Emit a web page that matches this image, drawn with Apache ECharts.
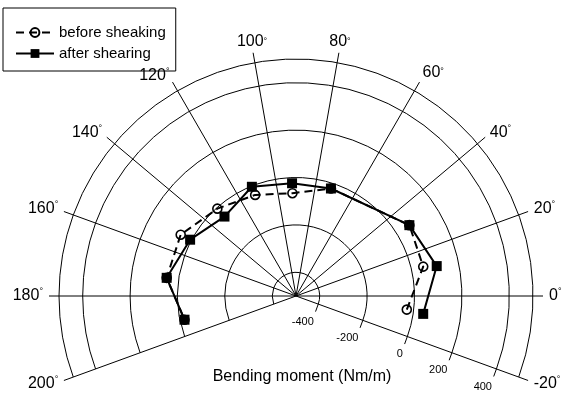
<!DOCTYPE html>
<html>
<head>
<meta charset="utf-8">
<script src="https://cdn.jsdelivr.net/npm/echarts@6/dist/echarts.min.js"></script>
<style>
html,body{margin:0;padding:0;background:#fff;}
#chart{width:562px;height:394px;}
</style>
</head>
<body>
<div id="chart"></div>
<script>
// ---- data ----
const seriesNames = ['before sheaking', 'after shearing'];
const beforeAngle = [-7, 13, 32, 72, 92, 112, 132, 152, 172, 192];
const beforeMoment = [-29, 51, 64, -23, -66, -40, -4, 51, 51, -19];
const afterAngle = [-8, 12, 32, 72, 92, 112, 132, 152, 172, 192];
const afterMoment = [42, 107, 64, -23, -24, -3, -49, 6, 51, -19];
const angleTicks = [-20, 0, 20, 40, 60, 80, 100, 120, 140, 160, 180, 200];
const radiusTicks = [-400, -200, 0, 200, 400];
const axisTitle = 'Bending moment (Nm/m)';

const FONT = "'Liberation Sans', Arial, sans-serif";
const CENTER = [296, 296];

const chart = echarts.init(document.getElementById('chart'), null, {renderer: 'canvas'});

function pairs(r, a) { return r.map((v, i) => [v, a[i]]); }

// label style key per angle (to lift the top labels the way the reference does)
function angleLabel(v) {
  let k = 'v';
  if (v === 80 || v === 100) k = 'up2';
  else if (v === 60) k = 'up1';
  return '{' + k + '|' + v + '}{d|°}';
}

const option = {
  backgroundColor: '#fff',
  animation: false,
  textStyle: {fontFamily: FONT, color: '#000'},
  legend: {
    orient: 'vertical',
    left: 3, top: 8,
    padding: [17, 10, 10, 12],
    itemWidth: 38, itemHeight: 11, itemGap: 6,
    borderColor: '#000', borderWidth: 1,
    textStyle: {fontFamily: FONT, fontSize: 15, color: '#000'},
    data: seriesNames
  },
  polar: [
    {center: CENTER, radius: [0, 237]},
    {center: CENTER, radius: [23.7, 213.3]}
  ],
  angleAxis: [
    {
      polarIndex: 0, type: 'value',
      min: angleTicks[0], max: angleTicks[angleTicks.length - 1], interval: 20,
      startAngle: -20, endAngle: 200, clockwise: false,
      axisLine: {show: true, lineStyle: {color: '#000', width: 1}},
      axisTick: {show: true, inside: false, length: 10, lineStyle: {color: '#000', width: 1}},
      splitLine: {show: true, lineStyle: {color: '#000', width: 1}},
      axisLabel: {
        show: true, margin: 16, fontSize: 16, fontFamily: FONT, color: '#000',
        formatter: angleLabel,
        rich: {
          v: {fontSize: 16, fontFamily: FONT, color: '#000', lineHeight: 2},
          up1: {fontSize: 16, fontFamily: FONT, color: '#000', lineHeight: 2, padding: [0, 0, 6, 0]},
          up2: {fontSize: 16, fontFamily: FONT, color: '#000', lineHeight: 2, padding: [0, 0, 8, 0]},
          d: {fontSize: 9, fontFamily: FONT, color: '#000', lineHeight: 2, padding: [0, 0, 8, 0]}
        }
      }
    },
    {
      polarIndex: 1, type: 'value',
      min: angleTicks[0], max: angleTicks[angleTicks.length - 1], interval: 20,
      startAngle: -20, endAngle: 200, clockwise: false,
      axisLine: {show: false}, axisTick: {show: false}, axisLabel: {show: false}, splitLine: {show: false}
    }
  ],
  radiusAxis: [
    {
      polarIndex: 0, type: 'value', min: -500, max: 500,
      axisLine: {show: false}, axisTick: {show: false}, axisLabel: {show: false}, splitLine: {show: false}
    },
    {
      polarIndex: 1, type: 'value',
      min: radiusTicks[0], max: radiusTicks[radiusTicks.length - 1], interval: 200,
      axisLine: {show: false},
      axisTick: {show: true, length: -8, lineStyle: {color: '#000', width: 1}},
      splitLine: {show: true, lineStyle: {color: '#000', width: 1}},
      axisLabel: {show: true, fontSize: 11, fontFamily: FONT, color: '#000', margin: -13, align: 'right', verticalAlign: 'top'}
    }
  ],
  graphic: [{
    type: 'text', x: 302, y: 377,
    style: {text: axisTitle, font: '16px ' + FONT, fill: '#000', textAlign: 'center', textVerticalAlign: 'middle'}
  }],
  series: [
    {
      name: seriesNames[0], type: 'line', coordinateSystem: 'polar', polarIndex: 0,
      data: pairs(beforeMoment, beforeAngle),
      symbol: 'circle', symbolSize: 9, z: 3,
      itemStyle: {color: 'rgba(0,0,0,0)', borderColor: '#000', borderWidth: 1.6},
      lineStyle: {color: '#000', width: 2, type: [8, 5]}
    },
    {
      name: seriesNames[1], type: 'line', coordinateSystem: 'polar', polarIndex: 0,
      data: pairs(afterMoment, afterAngle),
      symbol: 'rect', symbolSize: 10, z: 4,
      itemStyle: {color: '#000', borderColor: '#000', borderWidth: 0},
      lineStyle: {color: '#000', width: 2, type: 'solid'}
    }
  ]
};
chart.setOption(option);
</script>
</body>
</html>
